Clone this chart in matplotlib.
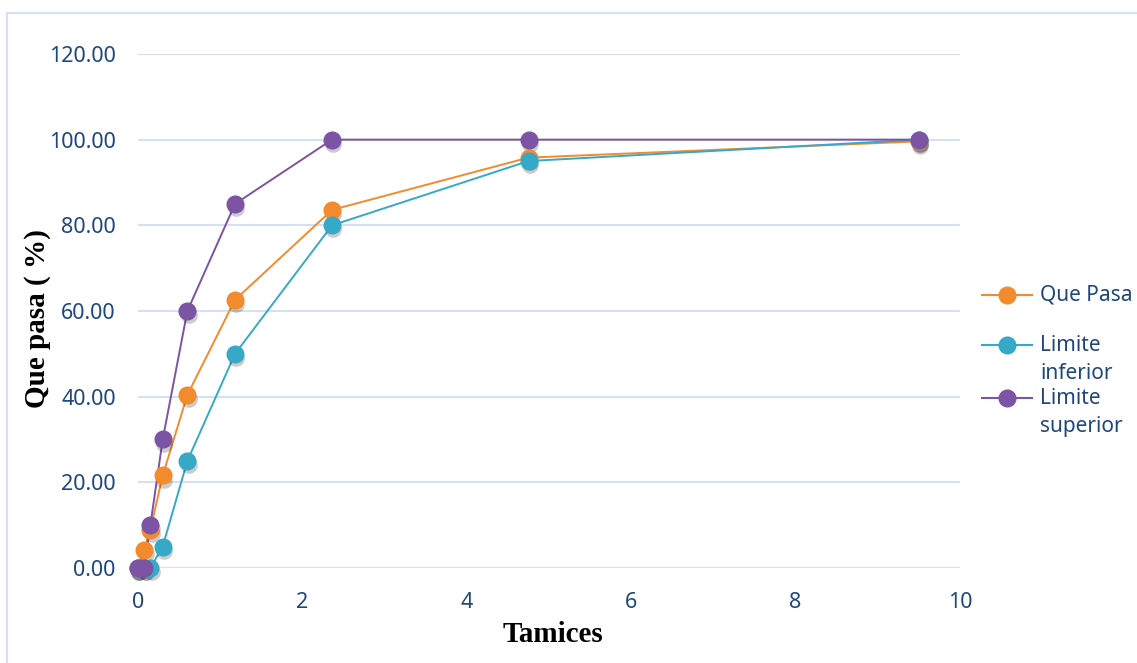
import matplotlib.pyplot as plt
import matplotlib.transforms as mtransforms
from matplotlib.lines import Line2D
from matplotlib.patches import Rectangle

# Aberturas de tamices (mm) y porcentajes que pasan
tamices = [9.5, 4.75, 2.36, 1.18, 0.6, 0.3, 0.15, 0.075, 0.0]
que_pasa = [99.6, 95.8, 83.6, 62.6, 40.4, 21.6, 8.9, 4.3, 0.0]
limite_inferior = [100, 95, 80, 50, 25, 5, 0, 0, 0]
limite_superior = [100, 100, 100, 85, 60, 30, 10, 0, 0]

series = [
    ("Que Pasa", que_pasa, "#F28A2E"),
    ("Limite\ninferior", limite_inferior, "#35A9C6"),
    ("Limite\nsuperior", limite_superior, "#7B54A3"),
]

texto = "#1F477D"
rejilla = "#D5E0F1"

fig = plt.figure(figsize=(11.37, 6.63), dpi=100)
ax = fig.add_axes([0.1214, 0.1433, 0.7230, 0.7753])

# Sombra de los marcadores desplazada hacia abajo
sombra = ax.transData + mtransforms.ScaledTranslation(1 / 72, -3 / 72, fig.dpi_scale_trans)

for nombre, valores, color in series:
    ax.plot(tamices, valores, color=color, lw=1.4, zorder=3, clip_on=False)
    ax.plot(tamices, valores, "o", ms=12, color="black", alpha=0.2,
            mec="none", transform=sombra, zorder=3, clip_on=False)
    ax.plot(tamices, valores, "o", ms=12, color=color, mec=color,
            zorder=4, clip_on=False)

ax.set_xlim(0, 10)
ax.set_ylim(0, 120)
ax.set_xticks(range(0, 11, 2))
ax.set_yticks(range(0, 121, 20))
ax.set_yticklabels([f"{v:.2f}" for v in range(0, 121, 20)])
ax.grid(axis="y", color=rejilla, lw=1.5)
ax.set_axisbelow(True)
for s in ax.spines.values():
    s.set_visible(False)
ax.tick_params(length=0, labelsize=15.5, labelcolor=texto)
ax.tick_params(axis="x", pad=17)
ax.tick_params(axis="y", pad=16)
for lbl in ax.get_xticklabels() + ax.get_yticklabels():
    lbl.set_fontfamily("Noto Sans")

ax.set_xlabel("Tamices", fontsize=21, fontweight="bold",
              fontfamily="Liberation Serif")
ax.set_ylabel("Que pasa ( %)", fontsize=21, fontweight="bold",
              fontfamily="Liberation Serif")
ax.xaxis.set_label_coords(0.505, -0.13)
ax.yaxis.set_label_coords(-0.122, 0.486)
ax.xaxis.label.set_va("center")
ax.yaxis.label.set_va("center")

# Leyenda dibujada a mano a la derecha del gráfico
W, H = 1137, 663
posiciones = [295, 345, 398]
for (nombre, valores, color), yp in zip(series, posiciones):
    yf = 1 - yp / H
    fig.add_artist(Line2D([982 / W, 1032 / W], [yf, yf], color=color, lw=1.5))
    fig.add_artist(Line2D([1007 / W], [yf], marker="o", ms=12, color=color))
    fig.text(1040 / W, yf + 10 / H, nombre, fontsize=15, color=texto,
             fontfamily="Noto Sans", va="top", ha="left",
             linespacing=1.45)

# Marco exterior del área del gráfico
fig.add_artist(Rectangle((7 / W, -0.05), 1.2, 1 - 13 / H + 0.05,
                         transform=fig.transFigure, fill=False,
                         edgecolor=rejilla, lw=1.5))

fig.savefig("out.png", dpi=100)
